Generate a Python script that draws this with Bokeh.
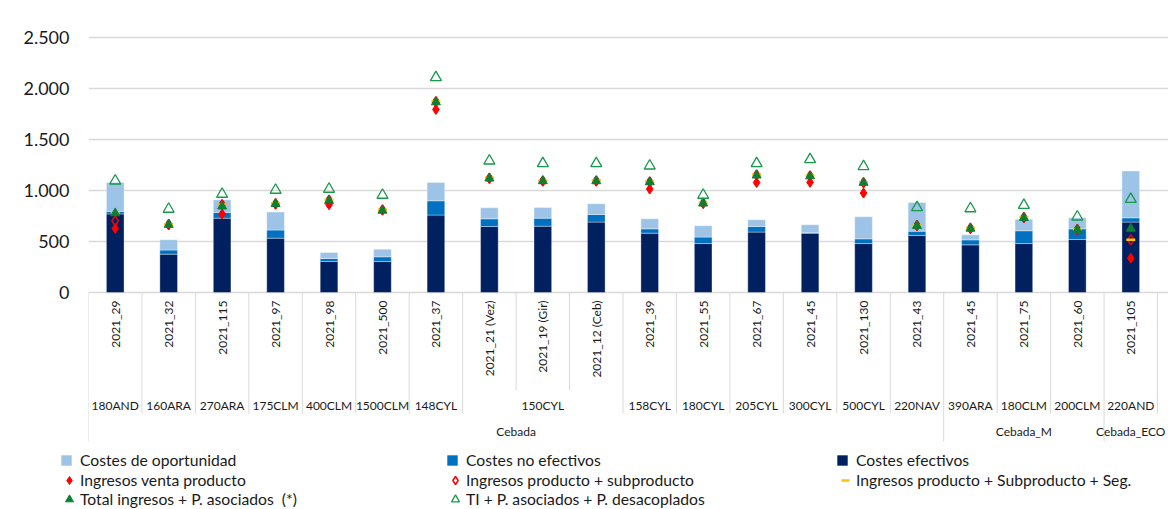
import math
from bokeh.plotting import figure
from bokeh.layouts import column
from bokeh.models import Range1d, ColumnDataSource, FixedTicker, Legend, LegendItem
from bokeh.core.properties import value
from bokeh.embed import file_html
from bokeh.resources import INLINE

# ---------------- data ----------------
codes = ["2021_29", "2021_32", "2021_115", "2021_97", "2021_98", "2021_500", "2021_37",
         "2021_21 (Vez)", "2021_19 (Gir)", "2021_12 (Ceb)", "2021_39", "2021_55", "2021_67",
         "2021_45", "2021_130", "2021_43", "2021_45", "2021_75", "2021_60", "2021_105"]
regions = ["180AND", "160ARA", "270ARA", "175CLM", "400CLM", "1500CLM", "148CYL",
           "150CYL", "150CYL", "150CYL", "158CYL", "180CYL", "205CYL",
           "300CYL", "500CYL", "220NAV", "390ARA", "180CLM", "200CLM", "220AND"]
crops = ["Cebada"] * 16 + ["Cebada_M"] * 3 + ["Cebada_ECO"]

costes_efectivos = [770, 376, 729, 533, 304, 304, 759, 647, 650, 690,
                    582, 480, 592, 582, 480, 559, 467, 480, 520, 690]
costes_no_efectivos = [25, 40, 55, 79, 29, 46, 140, 75, 79, 75,
                       42, 63, 55, 4, 46, 42, 49, 125, 104, 42]
costes_oportunidad = [283, 101, 125, 176, 59, 75, 179, 108, 104, 105,
                      98, 111, 66, 78, 216, 281, 49, 114, 108, 458]

ingresos_venta = [627, 664, 769, 865, 860, 808, 1794, 1118, 1092, 1092,
                  1014, 873, 1078, 1080, 975, 654, 627, 732, 614, 337]
ingresos_subproducto = [703, 667, 860, 872, 905, 810, 1870, 1122, 1095, 1095,
                        1085, 877, 1154, 1144, 1078, 658, 630, 736, 618, 516]
ingresos_seg = [781, 670, 862, 876, 907, 812, 1876, 1125, 1098, 1098,
                1088, 880, 1158, 1148, 1082, 660, 633, 740, 620, 516]
total_asociados = [778, 664, 845, 868, 899, 803, 1866, 1118, 1092, 1092,
                   1082, 873, 1148, 1140, 1076, 654, 627, 732, 614, 627]
ti_desacoplados = [1095, 818, 965, 1004, 1014, 955, 2108, 1291, 1265, 1265,
                   1242, 955, 1265, 1304, 1235, 833, 823, 856, 742, 915]

y_ticks = [0, 500, 1000, 1500, 2000, 2500]
y_tick_labels = ["0", "500", "1.000", "1.500", "2.000", "2.500"]

legend_labels = ["Costes de oportunidad", "Costes no efectivos", "Costes efectivos",
                 "Ingresos venta producto", "Ingresos producto + subproducto",
                 "Ingresos producto + Subproducto + Seg.",
                 "Total ingresos + P. asociados  (*)", "TI + P. asociados + P. desacoplados"]

# ---------------- styling / layout constants ----------------
LIGHT, MED, DARK = "#9DC3E6", "#0070C0", "#002060"
RED, YEL = "#FF0000", "#FFC000"
GREEN_FILL, GREEN_LINE = "#0B7F35", "#16994A"
SEP = "#D9D9D9"
TXT = "#1a1a1a"
FONT = "Lato"

W = 1168
H_MAIN, H_LEG = 445, 64
LEFT = 88                  # frame left edge (px)
CAT_PX = 53.45             # width of one category in px
PX_ZERO, PX_TOP = 292, 37  # frame-y of value 0 and of top tick

N = len(codes)
frame_w = W - LEFT
upp = y_ticks[-1] / (PX_ZERO - PX_TOP)
y_start = -(H_MAIN - PX_ZERO) * upp
y_end = y_ticks[-1] + PX_TOP * upp

p = figure(width=W, height=H_MAIN, output_backend="svg", toolbar_location=None,
           x_range=Range1d(0, frame_w / CAT_PX), y_range=Range1d(y_start, y_end),
           x_axis_location=None, min_border_left=LEFT, min_border_right=0,
           min_border_top=0, min_border_bottom=0)
p.frame_align = False
p.extra_y_ranges = {"scr": Range1d(start=H_MAIN, end=0)}
p.outline_line_color = None
p.background_fill_color = "white"
p.border_fill_color = "white"
p.xgrid.visible = False
p.ygrid.ticker = FixedTicker(ticks=y_ticks)
p.ygrid.grid_line_color = SEP
p.ygrid.grid_line_width = 1.4

ax = p.yaxis[0]
ax.ticker = FixedTicker(ticks=y_ticks)
ax.bounds = (y_ticks[0], y_ticks[-1])
ax.major_label_overrides = {t: l for t, l in zip(y_ticks, y_tick_labels)}
ax.axis_line_color = None
ax.major_tick_line_color = None
ax.minor_tick_line_color = None
ax.major_tick_out = 0
ax.major_tick_in = 0
ax.minor_tick_out = 0
ax.major_label_standoff = 19
ax.major_label_text_font = FONT
ax.major_label_text_font_size = "18px"
ax.major_label_text_color = TXT

xs = [i + 0.5 for i in range(N)]
src = ColumnDataSource(dict(
    x=xs, efectivos=costes_efectivos, no_efectivos=costes_no_efectivos,
    oportunidad=costes_oportunidad, venta=ingresos_venta, subprod=ingresos_subproducto,
    seg=ingresos_seg, total=total_asociados, ti=ti_desacoplados))

bars = p.vbar_stack(["efectivos", "no_efectivos", "oportunidad"], x="x", width=0.33,
                    source=src, fill_color=[DARK, MED, LIGHT],
                    line_color="white", line_alpha=0.35, line_width=1)

MK = dict(
    venta=dict(marker="diamond", fill_color=RED, line_color=RED),
    subprod=dict(marker="diamond", fill_color=None, line_color=RED, line_width=1.5),
    seg=dict(marker="dash", line_color=YEL, line_width=2.5),
    total=dict(marker="triangle", fill_color=GREEN_FILL, line_color=GREEN_FILL),
    ti=dict(marker="triangle", fill_color=None, line_color=GREEN_LINE, line_width=1.3),
)
SIZES = dict(venta=10, subprod=10, seg=9, total=9, ti=11)
for key in ["venta", "subprod", "seg", "total", "ti"]:
    p.scatter("x", key, source=src, size=SIZES[key], **MK[key])

# ---------------- category label area ----------------
SEP_TOP, SEP_CODE, SEP_REGION, SEP_CROP = 292, 390, 413, 441
b_x, b_y0, b_y1 = [], [], []
for b in range(N + 1):
    if b == 0 or (b < N and crops[b] != crops[b - 1]):
        end = SEP_CROP
    elif b == N or regions[b] != regions[b - 1]:
        end = SEP_REGION
    else:
        end = SEP_CODE
    b_x.append(b)
    b_y0.append(SEP_TOP)
    b_y1.append(end)
p.segment(x0=b_x, y0=b_y0, x1=b_x, y1=b_y1, y_range_name="scr",
          line_color=SEP, line_width=1)

LBL = dict(text_font=value(FONT), text_font_size=value("12px"), text_color=TXT,
           y_range_name="scr", text_baseline="middle")
p.text(x=xs, y=[SEP_TOP + 8] * N, text=codes, angle=math.pi / 2,
       text_align="right", **LBL)


def groups(keys):
    out = []
    start = 0
    for i in range(1, N + 1):
        if i == N or keys[i] != keys[start]:
            out.append((keys[start][-1], (start + i) / 2))
            start = i
    return out


reg_groups = groups(list(zip(crops, regions)))
crop_groups = groups([(c,) for c in crops])
p.text(x=[g[1] for g in reg_groups], y=[405] * len(reg_groups),
       text=[g[0] for g in reg_groups], text_align="center", **LBL)
p.text(x=[g[1] for g in crop_groups], y=[431] * len(crop_groups),
       text=[g[0] for g in crop_groups], text_align="center", **LBL)

# ---------------- legend (own strip below the chart) ----------------
lg = figure(width=W, height=H_LEG, output_backend="svg", toolbar_location=None,
            x_range=Range1d(0, 1), y_range=Range1d(0, 1), x_axis_location=None,
            y_axis_location=None, min_border=0, min_border_left=0,
            min_border_right=0, min_border_top=0, min_border_bottom=0)
lg.frame_align = False
lg.outline_line_color = None
lg.grid.visible = False
lg.background_fill_color = "white"
lg.border_fill_color = "white"

nan = float("nan")
proxies = [
    lg.scatter(x=[nan], y=[nan], marker="square", fill_color=LIGHT, line_color=None),
    lg.scatter(x=[nan], y=[nan], marker="square", fill_color=MED, line_color=None),
    lg.scatter(x=[nan], y=[nan], marker="square", fill_color=DARK, line_color=None),
]
for key in ["venta", "subprod", "seg", "total", "ti"]:
    proxies.append(lg.scatter(x=[nan], y=[nan], **MK[key]))

COLS = [69, 455, 845]          # glyph centres (px)
ROWS = [460, 480, 499]         # row centres (page px)
place = [(0, 0), (1, 0), (2, 0), (0, 1), (1, 1), (2, 1), (0, 2), (1, 2)]
G = [26, 26, 26, 20, 20, 20, 20, 20]
TOP = H_MAIN
for label, rend, g, (c, r) in zip(legend_labels, proxies, G, place):
    cx = COLS[c] - (g - 20) / 2
    cy = ROWS[r] - TOP
    leg = Legend(items=[LegendItem(label=label, renderers=[rend])],
                 location=(cx - g / 2, H_LEG - (cy + g / 2)),
                 glyph_width=g, glyph_height=g, label_standoff=1,
                 padding=0, margin=0, spacing=0, border_line_color=None,
                 background_fill_alpha=0, label_text_font=FONT,
                 label_text_font_size="15.7px", label_text_color=TXT)
    lg.add_layout(leg)

layout = column(p, lg, spacing=0)
open("out.html", "w").write(file_html(layout, INLINE))
